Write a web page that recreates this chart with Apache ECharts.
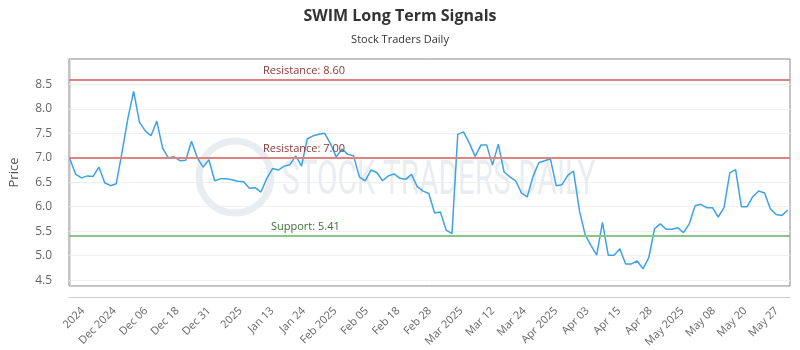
<!DOCTYPE html>
<html>
<head>
<meta charset="utf-8">
<script src="https://cdn.jsdelivr.net/npm/echarts@6/dist/echarts.min.js"></script>
<style>
  html, body { margin: 0; padding: 0; background: #fff; }
  #chart { width: 800px; height: 350px; }
</style>
</head>
<body>
<div id="chart"></div>
<script>
// closing prices, one per point
var prices = [
    6.97, 6.66, 6.59, 6.63, 6.62, 6.81, 6.49, 6.43, 6.47, 7.12,
    7.80, 8.36, 7.73, 7.55, 7.45, 7.75, 7.20, 7.00, 7.02, 6.94,
    6.95, 7.34, 7.00, 6.81, 6.96, 6.53, 6.57, 6.57, 6.55, 6.52,
    6.51, 6.38, 6.39, 6.30, 6.58, 6.78, 6.75, 6.83, 6.86, 7.04,
    6.83, 7.39, 7.45, 7.48, 7.50, 7.29, 7.02, 7.18, 7.07, 7.04,
    6.61, 6.53, 6.75, 6.70, 6.53, 6.63, 6.67, 6.58, 6.56, 6.66,
    6.41, 6.32, 6.27, 5.87, 5.89, 5.52, 5.45, 7.48, 7.53, 7.30,
    7.03, 7.26, 7.26, 6.85, 7.28, 6.71, 6.61, 6.53, 6.28, 6.20,
    6.62, 6.90, 6.94, 6.98, 6.43, 6.45, 6.64, 6.73, 5.93, 5.43,
    5.21, 5.01, 5.68, 5.01, 5.01, 5.14, 4.83, 4.83, 4.89, 4.73,
    4.96, 5.55, 5.65, 5.54, 5.54, 5.57, 5.47, 5.65, 6.02, 6.05,
    5.98, 5.98, 5.79, 5.98, 6.69, 6.76, 6.00, 6.00, 6.21, 6.32,
    6.28, 5.96, 5.84, 5.82, 5.93
];

var tickLabels = ['2024', 'Dec 2024', 'Dec 06', 'Dec 18', 'Dec 31', '2025', 'Jan 13', 'Jan 24',
    'Feb 2025', 'Feb 05', 'Feb 18', 'Feb 28', 'Mar 2025', 'Mar 12', 'Mar 24', 'Apr 2025',
    'Apr 03', 'Apr 15', 'Apr 28', 'May 2025', 'May 08', 'May 20', 'May 27'];

var priceTicks = [4.5, 5.0, 5.5, 6.0, 6.5, 7.0, 7.5, 8.0, 8.5];

var resistance = [8.60, 7.00];
var support = [5.41];

// labels sit evenly between the points (ordinal axis), not on them
var firstTick = 2.23, tickStep = 5.449;
var tickPos = tickLabels.map(function (l, k) { return firstTick + k * tickStep; });

var lines = [];
resistance.forEach(function (r) {
    lines.push({
        yAxis: r,
        name: 'Resistance: ' + r.toFixed(2),
        lineStyle: { color: '#e08282', width: 2, type: 'solid' },
        label: { color: '#8e3535', distance: [194, 3] }
    });
});
support.forEach(function (s) {
    lines.push({
        yAxis: s,
        name: 'Support: ' + s.toFixed(2),
        lineStyle: { color: '#8cc488', width: 2, type: 'solid' },
        label: { color: '#3f6e38', distance: [202, 3] }
    });
});

var myChart = echarts.init(document.getElementById('chart'));
myChart.setOption({
    animation: false,
    backgroundColor: '#fff',
    textStyle: { fontFamily: 'Open Sans' },
    title: {
        text: 'SWIM Long Term Signals',
        subtext: 'Stock Traders Daily',
        left: 'center',
        top: 3,
        itemGap: 10,
        textStyle: { fontSize: 16, fontWeight: 'bold', color: '#333', fontFamily: 'Open Sans' },
        subtextStyle: { fontSize: 11, color: '#333', fontFamily: 'Open Sans' }
    },
    grid: {
        left: 63, right: 10, top: 59, bottom: 64,
        show: true,
        borderColor: '#888',
        borderWidth: 1,
        backgroundColor: 'transparent'
    },
    graphic: [
        {
            type: 'circle', z: 1, silent: true,
            shape: { cx: 235, cy: 177, r: 36 },
            style: { fill: 'none', stroke: '#e9edf2', lineWidth: 7 }
        },
        {
            type: 'text', z: 1, silent: true,
            x: 282, y: 158, scaleX: 0.62,
            style: {
                text: 'STOCK TRADERS DAILY',
                font: '48px Roboto',
                fill: '#e9edf2'
            }
        }
    ],
    xAxis: {
        type: 'value',
        min: -0.17,
        max: 124.4,
        offset: 11,
        splitLine: { show: false },
        axisLine: { show: true, lineStyle: { color: '#ccc' } },
        axisTick: { show: false, customValues: tickPos },
        axisLabel: {
            customValues: tickPos,
            rotate: 45,
            fontSize: 11,
            color: '#666',
            margin: 12,
            formatter: function (v) {
                return tickLabels[Math.round((v - firstTick) / tickStep)];
            }
        }
    },
    yAxis: {
        type: 'value',
        min: 4.38,
        max: 9.02,
        offset: 10,
        name: 'Price',
        nameLocation: 'middle',
        nameGap: 38,
        nameTextStyle: { fontSize: 13, color: '#555' },
        axisLine: { show: true, lineStyle: { color: '#ddd' } },
        axisTick: { show: false, customValues: priceTicks },
        axisLabel: {
            customValues: priceTicks,
            fontSize: 12,
            color: '#666',
            margin: 7,
            formatter: function (v) { return v.toFixed(1); }
        },
        splitLine: { show: true, lineStyle: { color: '#f0f0f0' } }
    },
    series: [{
        name: 'Price',
        type: 'line',
        z: 3,
        showSymbol: false,
        data: prices.map(function (p, i) { return [i, p]; }),
        lineStyle: { color: '#3ea2e6', width: 1.5 },
        markLine: {
            silent: true,
            symbol: 'none',
            label: {
                position: 'insideStartTop',
                fontSize: 11,
                formatter: '{b}'
            },
            data: lines
        }
    }]
});
</script>
</body>
</html>
